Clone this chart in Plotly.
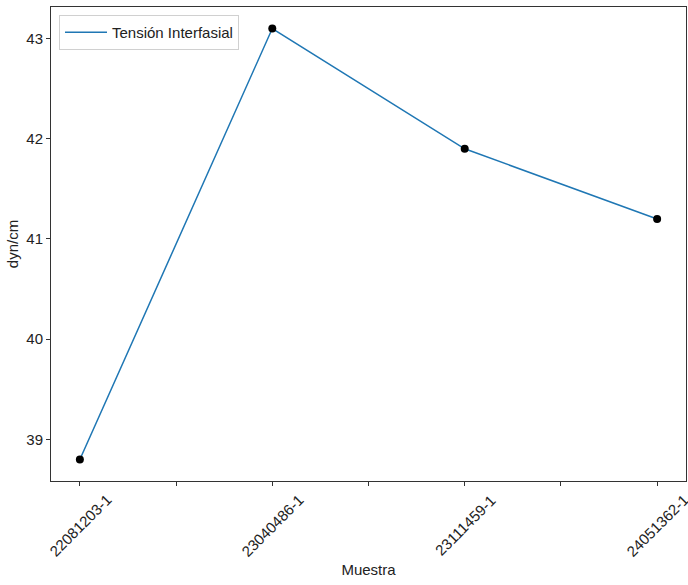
import plotly.graph_objects as go

muestras = ["22081203-1", "23040486-1", "23111459-1", "24051362-1"]
tension = [38.8, 43.1, 41.9, 41.2]
y_ticks = [39, 40, 41, 42, 43]

x_pos = list(range(len(muestras)))
FONT = "Liberation Sans, Arial, Helvetica"

fig = go.Figure()
fig.add_trace(go.Scatter(x=x_pos, y=tension, mode="lines", name="Tensión Interfasial",
                         line=dict(color="#1f77b4", width=1.5)))
fig.add_trace(go.Scatter(x=x_pos, y=tension, mode="markers", showlegend=False,
                         marker=dict(color="black", size=8)))

half_ticks = [i * 0.5 for i in range(2 * len(muestras) - 1)]
for i, m in enumerate(muestras):
    fig.add_annotation(x=i, xref="x", y=0, yref="paper", yanchor="middle", xanchor="center",
                       yshift=-44, text=m, textangle=-45, showarrow=False,
                       font=dict(family=FONT, size=15, color="#222"))

fig.update_layout(
    width=688, height=585,
    margin=dict(l=51, r=2, t=7, b=104, autoexpand=False),
    plot_bgcolor="white", paper_bgcolor="white",
    font=dict(family=FONT, size=15, color="#222"),
    showlegend=True,
    legend=dict(x=0.0126, y=0.983, xanchor="left", yanchor="top",
                bgcolor="rgba(255,255,255,0.8)", bordercolor="#d0d0d0", borderwidth=1,
                itemwidth=42, font=dict(size=15)),
    xaxis=dict(range=[-0.15, 3.15], tickmode="array", tickvals=half_ticks,
               ticktext=["" for _ in half_ticks], ticks="outside", ticklen=4,
               tickcolor="#333", showgrid=False, zeroline=False, automargin=False,
               showline=True, linecolor="#333", linewidth=1, mirror=True,
               title=dict(text="Muestra", standoff=76, font=dict(size=15))),
    yaxis=dict(range=[38.585, 43.315], tickmode="array", tickvals=y_ticks,
               ticks="outside", ticklen=4, tickcolor="#333", showgrid=False, zeroline=False,
               automargin=False,
               showline=True, linecolor="#333", linewidth=1, mirror=True,
               title=dict(text="dyn/cm", standoff=4, font=dict(size=15))),
)

fig.write_html("out.html", config={"displayModeBar": False},
               post_script="document.body.style.margin='0';")
